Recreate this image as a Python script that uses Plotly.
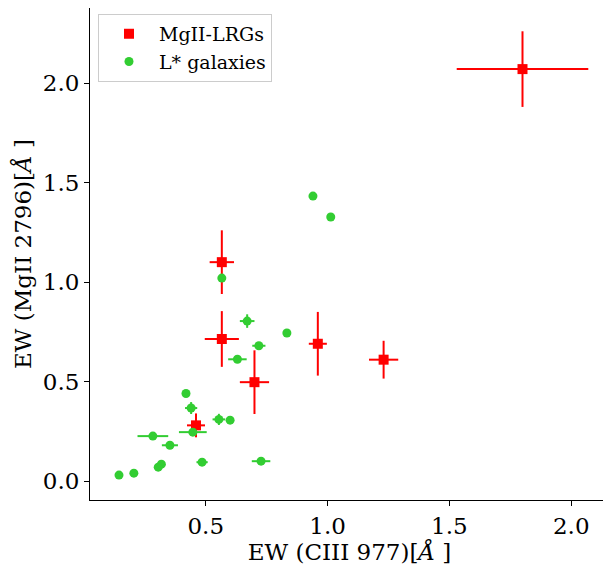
import plotly.graph_objects as go

# MgII-LRGs
lrg_x = [1.80, 0.566, 0.566, 0.70, 0.96, 1.23, 0.46]
lrg_y = [2.07, 1.10, 0.714, 0.497, 0.69, 0.61, 0.28]
lrg_xerr = [0.27, 0.05, 0.07, 0.06, 0.037, 0.06, 0.037]
lrg_yerr = [0.19, 0.16, 0.14, 0.16, 0.16, 0.095, 0.06]

# L* galaxies
lst_x = [0.566, 0.94, 1.013, 0.67, 0.833, 0.718, 0.63, 0.419, 0.44, 0.554, 0.60,
         0.447, 0.283, 0.353, 0.305, 0.318, 0.485, 0.727, 0.144, 0.205]
lst_y = [1.02, 1.432, 1.327, 0.804, 0.744, 0.68, 0.612, 0.44, 0.367, 0.31, 0.306,
         0.246, 0.226, 0.18, 0.07, 0.085, 0.095, 0.10, 0.03, 0.04]
lst_xerr = [0, 0, 0, 0.03, 0, 0.027, 0.038, 0, 0.025, 0.026, 0,
            0.057, 0.063, 0.033, 0, 0, 0.023, 0.038, 0, 0]
lst_yerr = [0, 0, 0, 0.034, 0, 0.008, 0, 0, 0.03, 0.028, 0,
            0, 0, 0, 0, 0, 0, 0, 0, 0]

RED = "#ff0000"
GREEN = "#32cd32"
FONT = "DejaVu Serif"

fig = go.Figure()
fig.add_trace(go.Scatter(
    x=lrg_x, y=lrg_y, mode="markers", name="MgII-LRGs",
    marker=dict(symbol="square", size=10, color=RED),
    error_x=dict(type="data", array=lrg_xerr, color=RED, thickness=2, width=0),
    error_y=dict(type="data", array=lrg_yerr, color=RED, thickness=2, width=0),
))
fig.add_trace(go.Scatter(
    x=lst_x, y=lst_y, mode="markers", name="L* galaxies",
    marker=dict(symbol="circle", size=9, color=GREEN),
    error_x=dict(type="data", array=lst_xerr, color=GREEN, thickness=2, width=0),
    error_y=dict(type="data", array=lst_yerr, color=GREEN, thickness=2, width=0),
))

axis_common = dict(
    showline=True, linecolor="black", linewidth=1, mirror=True,
    ticks="outside", ticklen=5, tickwidth=1, tickcolor="black",
    showgrid=False, zeroline=False, automargin=False,
    tickfont=dict(family=FONT, size=23, color="black"),
)
fig.update_xaxes(range=[0.025, 2.155], tickvals=[0.5, 1.0, 1.5, 2.0],
                 ticktext=["0.5", "1.0", "1.5", "2.0"],
                 title=dict(text="EW (CIII 977)[<i>Å</i> ]",
                            font=dict(family=FONT, size=23, color="black"), standoff=2),
                 **axis_common)
fig.update_yaxes(range=[-0.095, 2.377], tickvals=[0.0, 0.5, 1.0, 1.5, 2.0],
                 ticktext=["0.0", "0.5", "1.0", "1.5", "2.0"],
                 title=dict(text="EW (MgII 2796)[<i>Å</i> ]",
                            font=dict(family=FONT, size=23, color="black"), standoff=4),
                 **axis_common)

fig.update_layout(
    width=603, height=557,
    margin=dict(l=82, r=2, t=0, b=65),
    plot_bgcolor="white", paper_bgcolor="white",
    font=dict(family=FONT, color="black"),
    legend=dict(x=0.0154, y=0.988, xanchor="left", yanchor="top",
                bgcolor="rgba(255,255,255,0.8)", bordercolor="#cccccc", borderwidth=1,
                font=dict(family=FONT, size=19, color="black"), itemwidth=50,
                tracegroupgap=2),
    showlegend=True,
)

fig.write_html("out.html")
